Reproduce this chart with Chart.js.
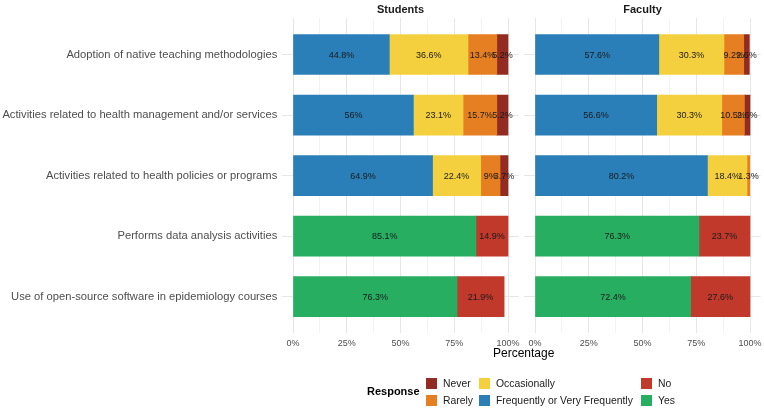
<!DOCTYPE html>
<html>
<head>
<meta charset="utf-8">
<script src="https://cdn.jsdelivr.net/npm/chart.js@4.4.1/dist/chart.umd.min.js"></script>
<style>
  body { margin: 0; background: #fff; width: 764px; height: 411px; position: relative; overflow: hidden; font-family: "Liberation Sans", Arial, sans-serif; }
  canvas { position: absolute; top: 0; }
  .lbl { position: absolute; white-space: nowrap; font-size: 10.4px; color: #1a1a1a; line-height: 13px; }
  .box { position: absolute; width: 11px; height: 11px; }
</style>
</head>
<body>
<canvas id="students" width="522" height="352" style="left:0px;width:522px;height:352px"></canvas>
<canvas id="faculty" width="243" height="352" style="left:521px;width:243px;height:352px"></canvas>
<div class="lbl" style="left:493px;top:347px;font-size:12px;color:#000">Percentage</div>
<div id="legend"></div>
<script>
// categories, top to bottom
const categories = [
  'Adoption of native teaching methodologies',
  'Activities related to health management and/or services',
  'Activities related to health policies or programs',
  'Performs data analysis activities',
  'Use of open-source software in epidemiology courses'
];

const responses = ['Frequently or Very Frequently', 'Occasionally', 'Rarely', 'Never', 'Yes', 'No'];
const responseColors = ['#2A7FB8', '#F4D03F', '#E67E22', '#922B21', '#27AE60', '#C0392B'];

// Students (%)
const studentFrequent   = [44.8, 56, 64.9, null, null];
const studentOccasional = [36.6, 23.1, 22.4, null, null];
const studentRarely     = [13.4, 15.7, 9, null, null];
const studentNever      = [5.2, 5.2, 3.7, null, null];
const studentYes        = [null, null, null, 85.1, 76.3];
const studentNo         = [null, null, null, 14.9, 21.9];

// Faculty (%)
const facultyFrequent   = [57.6, 56.6, 80.2, null, null];
const facultyOccasional = [30.3, 30.3, 18.4, null, null];
const facultyRarely     = [9.2, 10.5, 1.3, null, null];
const facultyNever      = [2.6, 2.6, null, null, null];
const facultyYes        = [null, null, null, 76.3, 72.4];
const facultyNo         = [null, null, null, 23.7, 27.6];

const xTicks = [0, 12.5, 25, 37.5, 50, 62.5, 75, 87.5, 100];

const FONT = '"Liberation Sans", Arial, sans-serif';

function makeDatasets(series) {
  return series.map((vals, k) => ({
    label: responses[k],
    data: vals.map((v, i) => ({ x: v, y: i + 1 })).filter(p => p.x !== null),
    backgroundColor: responseColors[k],
    borderWidth: 0,
    barThickness: 40
  }));
}

// percent text in the middle of each segment
const barText = {
  id: 'barText',
  afterDatasetsDraw(chart) {
    const ctx = chart.ctx;
    ctx.save();
    ctx.font = '9px ' + FONT;
    ctx.fillStyle = '#1a1a1a';
    ctx.textAlign = 'center';
    ctx.textBaseline = 'middle';
    chart.data.datasets.forEach((ds, di) => {
      chart.getDatasetMeta(di).data.forEach((el, j) => {
        const p = el.getProps(['x', 'base', 'y'], true);
        ctx.fillText(ds.data[j].x + '%', (p.x + p.base) / 2, p.y + 0.5);
      });
    });
    ctx.restore();
  }
};

function makeChart(id, title, series, showY, padL, padR) {
  return new Chart(document.getElementById(id), {
    type: 'bar',
    data: { datasets: makeDatasets(series) },
    options: {
      indexAxis: 'y',
      responsive: false,
      animation: false,
      layout: { padding: { left: padL, right: padR, top: 0, bottom: 0 } },
      plugins: {
        legend: { display: false },
        tooltip: { enabled: false },
        title: {
          display: true, text: title, fullSize: false,
          color: '#1a1a1a', font: { family: FONT, size: 11, weight: 'bold' },
          padding: { top: 3, bottom: 2 }
        }
      },
      scales: {
        x: {
          type: 'linear', stacked: true, min: -5, max: 105,
          afterBuildTicks: s => { s.ticks = xTicks.map(v => ({ value: v })); },
          afterFit: s => { s.height = 19; s.paddingLeft = 0; s.paddingRight = 0; },
          border: { display: false },
          grid: {
            drawTicks: false,
            color: c => (c.tick && c.tick.value % 25 === 0) ? '#e6e6e6' : '#f3f3f3',
            lineWidth: 1
          },
          ticks: {
            autoSkip: false, maxRotation: 0, padding: 5,
            color: '#4d4d4d', font: { family: FONT, size: 9 },
            callback: v => (v % 25 === 0 ? v + '%' : '')
          }
        },
        y: {
          type: 'linear', stacked: true, min: 0.4, max: 5.6, reverse: true,
          offset: false,
          afterBuildTicks: s => { s.ticks = categories.map((c, i) => ({ value: i + 1 })); },
          afterFit: s => { if (showY) s.width = 282.25; s.paddingTop = 0; s.paddingBottom = 0; },
          border: { display: false },
          grid: { offset: false, drawTicks: false, color: '#e6e6e6', lineWidth: 1 },
          ticks: {
            display: showY, autoSkip: false, padding: 5,
            color: '#4d4d4d', font: { family: FONT, size: 11.2 },
            callback: v => categories[v - 1]
          }
        }
      }
    },
    plugins: [barText]
  });
}

makeChart('students', 'Students',
  [studentFrequent, studentOccasional, studentRarely, studentNever, studentYes, studentNo],
  true, 0, 3.25);
makeChart('faculty', 'Faculty',
  [facultyFrequent, facultyOccasional, facultyRarely, facultyNever, facultyYes, facultyNo],
  false, 3.25, 3.25);

// legend, filled by column like the original
const legendOrder = ['Never', 'Rarely', 'Occasionally', 'Frequently or Very Frequently', 'No', 'Yes'];
const legendCols = [426, 426, 479, 479, 641, 641];
const legendRows = [378, 395, 378, 395, 378, 395];
const leg = document.getElementById('legend');
let html = '<div class="lbl" style="left:367px;top:385px;font-size:11px;font-weight:bold;color:#000">Response</div>';
legendOrder.forEach((name, i) => {
  const col = responseColors[responses.indexOf(name)];
  html += '<div class="box" style="left:' + legendCols[i] + 'px;top:' + legendRows[i] + 'px;background:' + col + '"></div>';
  html += '<div class="lbl" style="left:' + (legendCols[i] + 17) + 'px;top:' + (legendRows[i] - 1) + 'px">' + name + '</div>';
});
leg.innerHTML = html;
</script>
</body>
</html>
